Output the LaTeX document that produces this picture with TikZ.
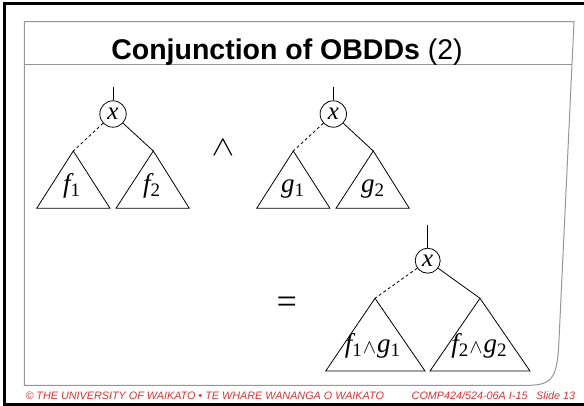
\documentclass[tikz,border=0pt]{standalone}
\usepackage{fontspec}
\setmainfont{Liberation Serif}
\newfontfamily\hsans{Liberation Sans}
\usepackage{graphicx}
\definecolor{framegray}{RGB}{150,150,150}
\definecolor{footred}{RGB}{228,48,48}
\newcommand\vsub[2]{#1\raisebox{-4pt}{\fontsize{19}{19}\selectfont\upshape #2}}
\newcommand\lwedge{\kern1pt\raisebox{-0.5pt}{\scalebox{0.8}{$\wedge$}}\kern1pt}
\tikzset{
  varnode/.style={circle, draw, line width=0.8pt, minimum size=26.4pt, inner sep=0pt,
    font=\itshape\fontsize{25}{25}\selectfont},
  conn/.style={line width=0.8pt},
  lo/.style={conn, dash pattern=on 3pt off 2.5pt},
  tri/.style={line width=0.8pt, line join=miter},
  lbl/.style={inner sep=0pt, anchor=base, font=\itshape\fontsize{27}{27}\selectfont},
  foot/.style={inner sep=0pt, anchor=base west, text=footred, font=\hsans\itshape\fontsize{10.8}{10.8}\selectfont},
}
\begin{document}
\begin{tikzpicture}[x=1pt,y=-1pt]
\useasboundingbox (0,0) rectangle (584,406);
% outer frame
\draw[line width=2.4pt] (590,3.7) -- (4.5,3.7) -- (4.5,404.5) -- (590,404.5);
% inner page frame
\draw[framegray, line width=1pt] (24.3,21.7) -- (574,21.7) -- (559,340)
  .. controls (557.5,378) and (552,384.5) .. (530,385.3) -- (24.3,385.3) -- cycle;
\draw[framegray, line width=1pt] (24.3,64.3) -- (571.8,64.3);
% title
\node[inner sep=0pt, anchor=base] (title) at (287,59.6)
  {\hsans\fontsize{28.5}{28.5}\selectfont\bfseries Conjunction of OBDDs \mdseries(2)};
% footer
\node[foot] (ft1) at (25.3,399.5) {© THE UNIVERSITY OF WAIKATO • TE WHARE WANANGA O WAIKATO};
\node[foot] (ft2) at (411.5,399.5) {COMP424/524-06A I-15};
\node[foot] (ft3) at (536,399.5) {Slide 13};

% ---------- tree f ----------
\node[varnode] (xf) at (113,114) {x};
\coordinate (sf) at (113,87.5);
\coordinate (af1) at (73.3,151);
\coordinate (af2) at (153.3,151);
\draw[conn] (sf) -- (xf);
\draw[lo] (xf) -- (af1);
\draw[conn] (xf) -- (af2);
\draw[tri] (af1) -- (36.7,208.3) -- (110,208.3) -- cycle;
\draw[tri] (af2) -- (116,208.3) -- (189.3,208.3) -- cycle;
\node[lbl] (lf1) at (71.5,192.7) {\vsub{f}{1}};
\node[lbl] (lf2) at (151.5,192.7) {\vsub{f}{2}};

% wedge
\node[inner sep=0pt, anchor=base] (and) at (223,155.5) {\scalebox{3.4}[2.8]{$\wedge$}};

% ---------- tree g ----------
\node[varnode] (xg) at (333.3,114) {x};
\coordinate (sg) at (333.3,87.5);
\coordinate (ag1) at (293.3,151);
\coordinate (ag2) at (373.3,151);
\draw[conn] (sg) -- (xg);
\draw[lo] (xg) -- (ag1);
\draw[conn] (xg) -- (ag2);
\draw[tri] (ag1) -- (256.7,208.3) -- (330,208.3) -- cycle;
\draw[tri] (ag2) -- (336,208.3) -- (409.3,208.3) -- cycle;
\node[lbl] (lg1) at (292.5,192.7) {\vsub{g}{1}};
\node[lbl] (lg2) at (372.5,192.7) {\vsub{g}{2}};

% equals
\node[inner sep=0pt, anchor=base] (eq) at (286.7,313) {\fontsize{36}{36}\selectfont =};

% ---------- result tree ----------
\node[varnode, minimum size=25pt] (xr) at (427.7,260.7) {x};
\coordinate (sr) at (427.7,225);
\coordinate (ar1) at (375,298.3);
\coordinate (ar2) at (480,298.3);
\draw[conn] (sr) -- (xr);
\draw[lo] (xr) -- (ar1);
\draw[conn] (xr) -- (ar2);
\draw[tri] (ar1) -- (325.7,371) -- (425,371) -- cycle;
\draw[tri] (ar2) -- (430,371) -- (530,371) -- cycle;
\node[lbl] (lr1) at (372.5,352.5) {\vsub{f}{1}\lwedge\vsub{g}{1}};
\node[lbl] (lr2) at (479,352.5) {\vsub{f}{2}\lwedge\vsub{g}{2}};
\end{tikzpicture}
\end{document}
